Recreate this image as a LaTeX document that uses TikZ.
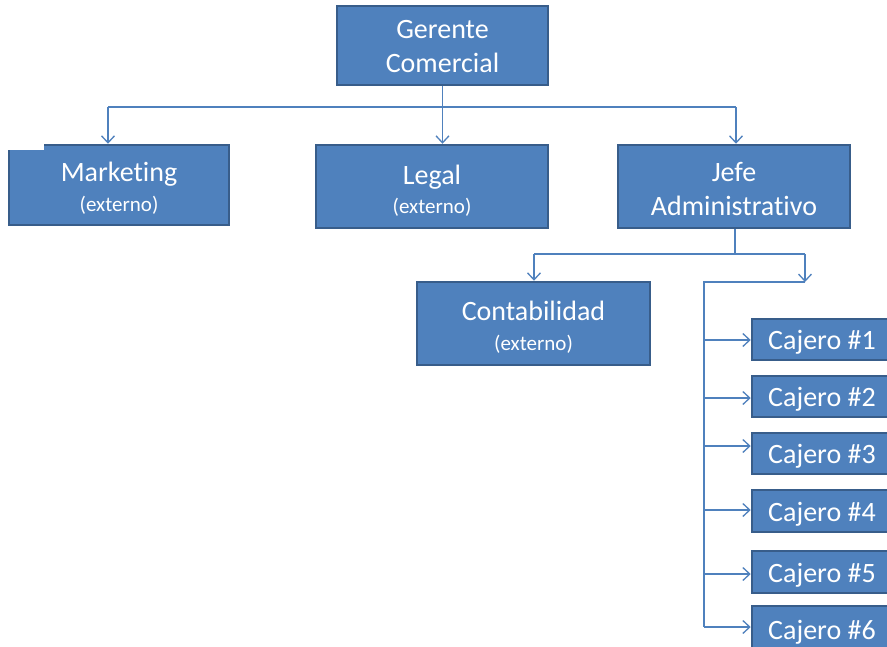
\documentclass[tikz,border=0pt]{standalone}
\usepackage{fontspec}
\setmainfont{Carlito}[Ligatures=NoCommon]
\usetikzlibrary{arrows.meta}
\definecolor{boxfill}{HTML}{4F81BD}
\definecolor{boxline}{HTML}{385D8A}
\definecolor{conn}{HTML}{4F81BD}
\newcommand{\subtxt}[1]{{\fontsize{21}{26}\selectfont #1}}
\begin{document}
\begin{tikzpicture}[x=1pt,y=-1pt,
  orgbox/.style={draw=boxline,line width=2.5pt,fill=boxfill,inner sep=0pt},
  boxtext/.style={text=white,inner sep=0pt,align=center,font=\fontsize{28}{34}\selectfont},
  conline/.style={draw=conn,line width=1.5pt},
  arr/.style={conline,-{Straight Barb[length=7pt,width=13pt,line width=1.3pt]}}]
\clip (0,0) rectangle (887,646);
\fill[white] (0,0) rectangle (887,646);
% boxes
\node[orgbox,minimum width=211pt,minimum height=79pt] (G) at (442.5,45.5) {};
\node[boxtext] (Gt) at ([yshift=-1pt]G.center) {Gerente\\Comercial};
\node[orgbox,minimum width=220pt,minimum height=80pt] (M) at (119,185) {};
\node[boxtext] (Mt) at ([yshift=-3.5pt]M.center) {Marketing\\[-4pt]\subtxt{(externo)}};
\node[orgbox,minimum width=232pt,minimum height=83pt] (L) at (432,186.5) {};
\node[boxtext] (Lt) at ([yshift=-4pt]L.center) {Legal\\[-5pt]\subtxt{(externo)}};
\node[orgbox,minimum width=232pt,minimum height=83pt] (J) at (734,186.5) {};
\node[boxtext] (Jt) at ([yshift=-2.5pt]J.center) {Jefe\\Administrativo};
\node[orgbox,minimum width=233pt,minimum height=83pt] (C) at (533.5,323.5) {};
\node[boxtext] (Ct) at ([yshift=-4pt]C.center) {Contabilidad\\[-4pt]\subtxt{(externo)}};
\foreach \i/\yt/\yb in {1/319/360,2/376/417,3/433/474,4/490/532,5/551/593,6/606/652}{
  \pgfmathsetmacro{\hh}{\yb-\yt}
  \pgfmathsetmacro{\yc}{(\yt+\yb)/2}
  \node[orgbox,minimum width=140pt,minimum height=\hh pt] (K\i) at (822,\yc) {};
  \node[boxtext] (K\i t) at ([yshift=-3pt]K\i.center) {Cajero \#\i};
}
% notch of Marketing box
\fill[white] (6,142) rectangle (44,149.5);
% connectors level 1
\coordinate (h1) at (108,107);
\coordinate (h2) at (736,107);
\draw[conline] (h1) -- (h2);
\draw[arr] (G.south) -- (G.south |- L.north);
\draw[arr] (h1) -- (h1 |- M.north);
\draw[arr] (h2) -- (h2 |- J.north);
% connectors level 2
\coordinate (j1) at (735,254);
\coordinate (c1) at (534,254);
\coordinate (c2) at (805,254);
\coordinate (v1) at (704,282);
\coordinate (v2) at (805,282);
\coordinate (v3) at (704,627);
\draw[conline] (J.south -| j1) -- (j1);
\draw[conline] (c1) -- (c2);
\draw[arr] (c1) -- (c1 |- C.north);
\draw[arr] (c2) -- (v2);
\draw[conline] (v2) -- (v1) -- (v3);
\foreach \i/\ya in {1/340,2/398,3/446,4/510,5/574,6/627}{
  \coordinate (b\i) at (704,\ya);
  \draw[arr] (b\i) -- (b\i -| K\i.west);
}
\end{tikzpicture}
\end{document}
